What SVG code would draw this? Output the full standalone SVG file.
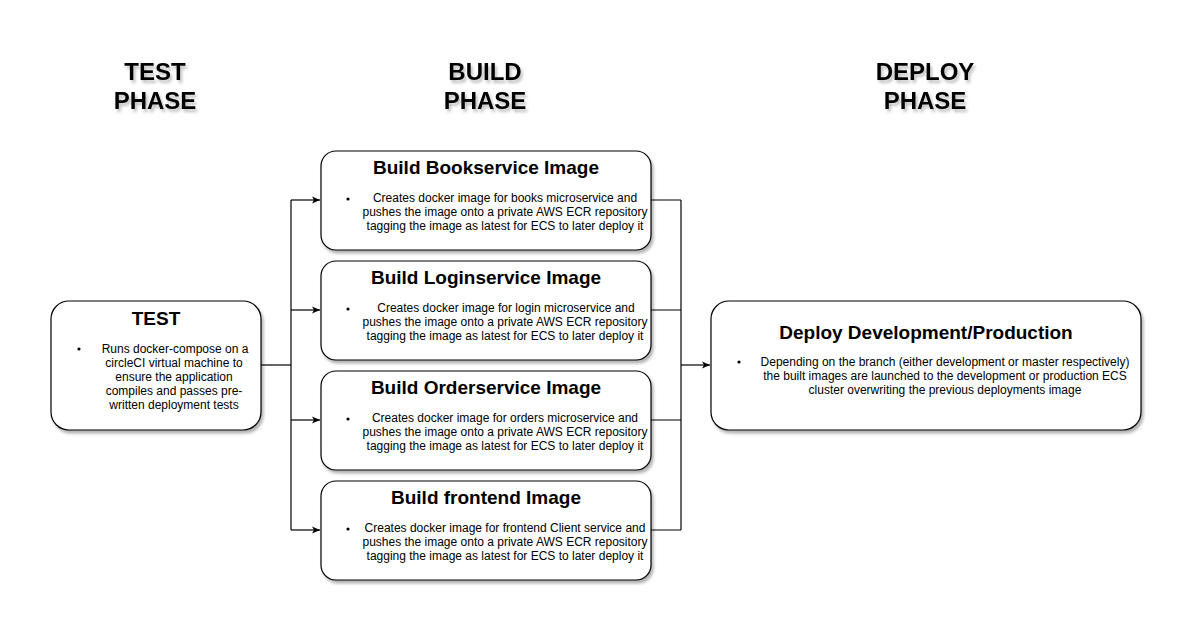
<svg xmlns="http://www.w3.org/2000/svg" width="1202" height="642" viewBox="0 0 1202 642">
<defs>
<filter id="sh" x="-10%" y="-10%" width="130%" height="140%">
<feDropShadow dx="2" dy="3" stdDeviation="1.5" flood-color="#000" flood-opacity="0.3"/>
</filter>
<filter id="tsh" x="-10%" y="-20%" width="130%" height="160%">
<feDropShadow dx="2" dy="3" stdDeviation="1.5" flood-color="#000" flood-opacity="0.25"/>
</filter>
<marker id="arr" markerWidth="10" markerHeight="10" refX="9" refY="5" orient="auto" markerUnits="userSpaceOnUse">
<path d="M1,1.5 L9,5 L1,8.5 L3,5 Z" fill="#000"/>
</marker>
<style>
.box{fill:#fff;stroke:#000;stroke-width:1.2;filter:url(#sh)}
.ph{font-family:"Liberation Sans",Arial,sans-serif;font-weight:bold;font-size:24px;text-anchor:middle;fill:#000;filter:url(#tsh)}
.tt{font-family:"Liberation Sans",Arial,sans-serif;font-weight:bold;font-size:19px;text-anchor:middle;fill:#000}
.bd{font-family:"Liberation Sans",Arial,sans-serif;font-size:12px;text-anchor:middle;fill:#000}
.bl{fill:#000}
.ln{fill:none;stroke:#000;stroke-width:1.2}
</style>
</defs>
<rect width="1202" height="642" fill="#fff"/>
<g id="headings">
<text class="ph" x="155" y="80">TEST</text>
<text class="ph" x="155" y="109">PHASE</text>
<text class="ph" x="485" y="80">BUILD</text>
<text class="ph" x="485" y="109">PHASE</text>
<text class="ph" x="925" y="80">DEPLOY</text>
<text class="ph" x="925" y="109">PHASE</text>
</g>
<g id="connectors">
<path class="ln" d="M261,365 H291"/>
<path class="ln" d="M291,200 V530"/>
<path class="ln" d="M291,200 H320" marker-end="url(#arr)"/>
<path class="ln" d="M291,310 H320" marker-end="url(#arr)"/>
<path class="ln" d="M291,420 H320" marker-end="url(#arr)"/>
<path class="ln" d="M291,530 H320" marker-end="url(#arr)"/>
<path class="ln" d="M651,200 H681 M651,310 H681 M651,420 H681 M651,530 H681"/>
<path class="ln" d="M681,200 V530"/>
<path class="ln" d="M681,365 H710" marker-end="url(#arr)"/>
</g>
<g id="test">
<rect class="box" x="51" y="301" width="210" height="129" rx="18"/>
<text class="tt" x="156" y="325">TEST</text>
<circle class="bl" cx="79" cy="349" r="1.6"/>
<text class="bd" x="175" y="353">Runs docker-compose on a</text>
<text class="bd" x="174" y="367">circleCI virtual machine to</text>
<text class="bd" x="174" y="381">ensure the application</text>
<text class="bd" x="174" y="395">compiles and passes pre-</text>
<text class="bd" x="174" y="409">written deployment tests</text>
</g>
<g id="build-bookservice">
<rect class="box" x="321" y="151" width="330" height="99" rx="15"/>
<text class="tt" x="486" y="174">Build Bookservice Image</text>
<circle class="bl" cx="348" cy="199" r="1.6"/>
<text class="bd" x="505" y="202">Creates docker image for books microservice and</text>
<text class="bd" x="505" y="216">pushes the image onto a private AWS ECR repository</text>
<text class="bd" x="505" y="230">tagging the image as latest for ECS to later deploy it</text>
</g>
<g id="build-loginservice">
<rect class="box" x="321" y="261" width="330" height="99" rx="15"/>
<text class="tt" x="486" y="284">Build Loginservice Image</text>
<circle class="bl" cx="348" cy="309" r="1.6"/>
<text class="bd" x="506" y="312">Creates docker image for login microservice and</text>
<text class="bd" x="505" y="326">pushes the image onto a private AWS ECR repository</text>
<text class="bd" x="505" y="340">tagging the image as latest for ECS to later deploy it</text>
</g>
<g id="build-orderservice">
<rect class="box" x="321" y="371" width="330" height="99" rx="15"/>
<text class="tt" x="486" y="394">Build Orderservice Image</text>
<circle class="bl" cx="348" cy="419" r="1.6"/>
<text class="bd" x="505" y="422">Creates docker image for orders microservice and</text>
<text class="bd" x="505" y="436">pushes the image onto a private AWS ECR repository</text>
<text class="bd" x="505" y="450">tagging the image as latest for ECS to later deploy it</text>
</g>
<g id="build-frontend">
<rect class="box" x="321" y="481" width="330" height="99" rx="15"/>
<text class="tt" x="486" y="504">Build frontend Image</text>
<circle class="bl" cx="348" cy="529" r="1.6"/>
<text class="bd" x="505" y="532">Creates docker image for frontend Client service and</text>
<text class="bd" x="505" y="546">pushes the image onto a private AWS ECR repository</text>
<text class="bd" x="505" y="560">tagging the image as latest for ECS to later deploy it</text>
</g>
<g id="deploy">
<rect class="box" x="711" y="301" width="430" height="129" rx="18"/>
<text class="tt" x="926" y="339">Deploy Development/Production</text>
<circle class="bl" cx="739" cy="362" r="1.6"/>
<text class="bd" x="945" y="366">Depending on the branch (either development or master respectively)</text>
<text class="bd" x="945" y="380">the built images are launched to the development or production ECS</text>
<text class="bd" x="945" y="394">cluster overwriting the previous deployments image</text>
</g>
</svg>
